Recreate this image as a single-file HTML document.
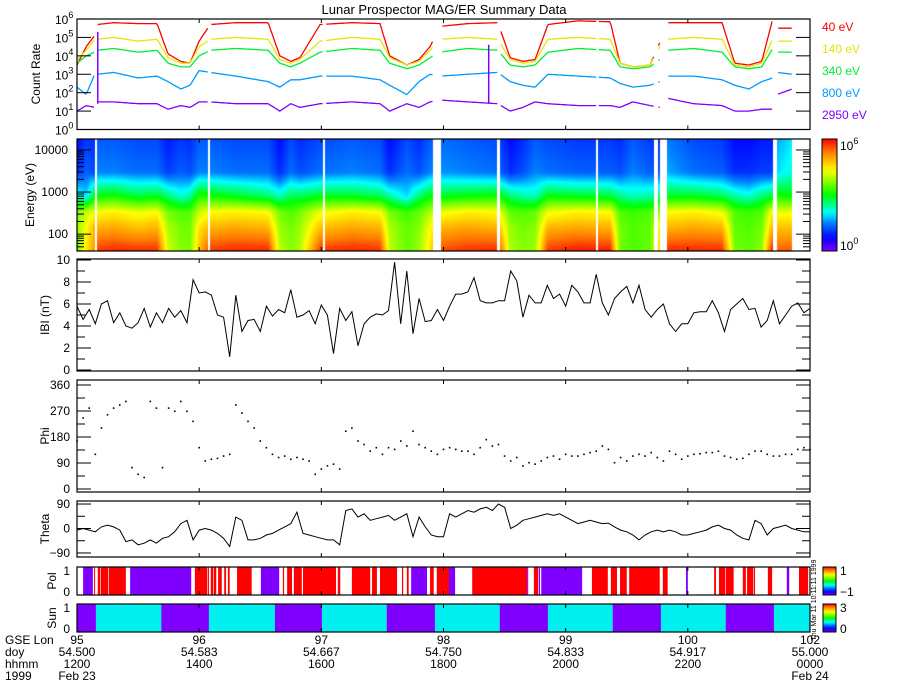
<!DOCTYPE html>
<html><head><meta charset="utf-8"><title>Lunar Prospector MAG/ER Summary Data</title>
<style>
html,body{margin:0;padding:0;background:#fff;}
#wrap{position:relative;width:900px;height:700px;overflow:hidden;background:#fff;font-family:"Liberation Sans",sans-serif;}
#spec{position:absolute;left:77px;top:139px;z-index:0;}
#chart{position:absolute;left:0;top:0;z-index:1;}
</style></head>
<body>
<div id="wrap">
<canvas id="spec" width="733" height="112"></canvas>
<svg id="chart" width="900" height="700" xmlns="http://www.w3.org/2000/svg"></svg>
</div>
<script>
// ---------- DATA ----------
const countT = [12.0,12.15,12.29,12.31,12.33,12.6,13.0,13.31,13.49,13.7,13.85,14.0,14.18,14.6,15.13,15.32,15.5,15.65,15.98,16.5,16.96,17.12,17.4,17.6,17.78,17.94,18.4,18.89,19.09,19.3,19.5,19.71,20.2,20.73,20.89,21.1,21.38,21.54,21.6,21.66,22.1,22.56,22.77,23.0,23.21,23.39,23.42,23.46,23.71];
const red40 = [3.5,4.5,5.1,null,5.7,5.8,5.75,5.75,4.1,3.7,3.6,4.8,5.7,5.8,5.8,4.0,3.7,3.9,5.7,5.8,5.75,4.0,3.5,3.8,4.5,5.6,5.75,5.8,3.9,3.7,3.8,5.7,5.9,5.85,3.6,3.4,3.5,4.7,null,5.8,5.8,5.8,3.6,3.5,3.7,6.0,null,5.5,5.5];
const yel140 = [3.8,4.3,4.9,null,4.9,5.0,4.8,4.9,3.9,3.6,3.6,4.5,4.9,5.0,4.9,3.8,3.6,3.8,4.8,5.0,4.9,3.9,3.5,3.7,4.3,4.9,5.0,4.9,3.8,3.6,3.7,4.9,5.0,4.9,3.6,3.4,3.5,4.5,null,4.9,5.0,4.9,3.5,3.4,3.6,4.9,null,4.8,4.8];
const grn340 = [3.6,4.0,4.2,null,4.3,4.4,4.2,4.3,3.6,3.4,3.4,4.0,4.3,4.4,4.3,3.6,3.4,3.6,4.2,4.4,4.3,3.6,3.3,3.5,3.9,4.2,4.4,4.3,3.5,3.4,3.5,4.2,4.4,4.3,3.4,3.3,3.4,3.8,null,4.3,4.4,4.2,3.4,3.3,3.4,4.4,null,4.2,4.2];
const blu800 = [2.3,1.9,3.0,null,3.0,3.1,2.8,2.9,2.6,2.2,2.4,3.2,3.1,2.9,2.6,2.3,2.7,2.7,2.9,2.9,2.7,2.4,1.9,2.6,3.0,2.9,3.0,3.1,2.6,2.4,2.3,3.0,2.9,2.8,2.5,2.3,2.4,2.6,null,2.9,2.9,2.7,2.4,2.2,2.6,2.8,null,3.1,3.0];
const pur2950 = [1.0,1.3,1.2,null,1.5,1.5,1.4,1.4,1.1,1.3,1.2,1.5,1.5,1.4,1.4,1.0,1.4,1.2,1.4,1.5,1.4,1.0,1.4,1.2,1.5,1.6,1.5,1.4,1.0,1.2,1.5,1.4,1.3,1.3,1.2,1.5,1.3,1.2,null,1.7,1.4,1.3,1.0,1.0,1.1,1.1,null,1.9,2.2];
const spikeT = [12.34,18.74];
const spikeV = [5.3,4.6];
const gapStart = [12.29,14.14,16.03,17.83,18.88,20.50,21.45,21.54,23.39,23.71];
const gapEnd   = [12.33,14.18,16.06,17.96,18.93,20.53,21.51,21.66,23.46,24.01];
const channelLabels = ["40 eV","140 eV","340 eV","800 eV","2950 eV"];
const channelLogE = [1.602,2.146,2.531,2.903,3.470];

const bMag = [5.8,4.6,5.5,4.2,6.0,6.3,4.3,5.2,4.0,3.8,
 4.3,5.6,3.9,5.2,4.3,5.6,4.8,5.4,4.3,8.2,
 7.0,7.1,6.8,5.0,4.8,1.2,6.8,3.5,4.5,4.6,
 3.5,5.8,4.9,5.5,5.2,7.3,4.8,5.0,5.4,4.2,
 5.9,5.0,1.5,5.6,4.5,5.3,2.2,4.2,4.8,5.1,
 5.0,5.4,9.8,4.2,9.0,3.3,6.5,4.4,4.5,5.5,
 4.5,5.8,6.9,6.9,7.1,8.4,6.3,6.1,6.1,6.3,
 6.3,9.0,8.1,4.8,6.8,6.1,6.1,7.7,6.5,6.9,
 5.8,7.7,7.1,6.1,6.1,8.7,6.1,5.0,6.5,7.1,
 7.6,6.1,7.7,5.5,4.8,5.5,6.0,4.2,3.5,4.2,
 4.2,5.2,5.3,5.3,6.3,5.2,3.5,5.5,6.0,6.5,
 5.5,5.6,3.9,4.5,6.3,4.2,5.0,5.8,6.1,5.2,
 5.6];
const phi = [166,246,280,120,211,257,280,291,303,74,
 51,40,303,280,74,280,269,303,269,234,
 143,97,103,106,114,120,291,263,234,211,
 166,143,120,109,114,103,109,103,97,51,
 69,80,86,69,200,211,166,154,131,143,
 120,143,137,166,149,200,154,143,131,120,
 137,143,137,131,131,120,143,171,149,154,
 114,97,109,80,91,86,97,109,114,103,
 120,114,114,120,126,131,149,137,91,109,
 97,114,120,114,126,109,97,131,120,103,
 114,120,122,126,126,131,114,109,103,106,
 120,131,131,120,114,114,120,120,137,143,
 137];
const theta = [-6,0,-6,-12,6,12,6,-6,-48,-42,
 -60,-54,-42,-54,-36,-30,-12,18,30,-42,
 -6,0,-6,-18,-36,-66,42,30,-42,-42,
 -36,-24,-18,-6,6,18,60,-18,-24,-30,
 -36,-42,-42,-60,66,72,42,54,30,36,
 42,48,30,42,54,-30,42,6,-24,-30,
 -30,54,42,54,66,60,72,78,66,90,
 78,0,12,30,36,42,48,54,48,54,
 42,30,18,24,30,24,18,20,6,-6,
 -12,-24,-42,-24,-12,-6,-12,-6,-12,-24,
 -24,-18,-12,-6,6,12,0,-6,-24,-36,
 -42,30,18,-24,0,6,12,0,-6,-12,
 -12];
const polStart = [12.10,12.28,12.34,12.39,12.52,12.87,13.93,14.14,14.19,14.24,14.31,14.41,14.47,14.62,15.01,15.37,15.44,15.55,15.70,16.27,16.50,16.83,16.96,17.32,17.40,17.47,17.78,17.89,18.09,18.47,19.37,19.48,19.56,19.60,20.43,20.74,20.89,21.04,21.59,21.97,22.43,22.51,22.62,22.90,22.97,23.08,23.31,23.62,23.82];
const polEnd   = [12.26,12.29,12.38,12.51,12.80,13.87,14.13,14.16,14.23,14.28,14.37,14.44,14.50,14.86,15.31,15.39,15.52,15.68,16.24,16.31,16.80,16.91,17.24,17.34,17.43,17.73,17.84,18.09,18.19,19.37,19.38,19.55,19.58,20.27,20.69,20.84,21.00,21.54,21.67,22.00,22.46,22.61,22.75,22.95,23.07,23.10,23.38,23.66,23.97];
const polValue = [-1,1,1,1,1,-1,1,1,1,1,1,1,1,1,-1,1,1,1,1,1,1,1,1,1,1,-1,1,1,-1,1,-1,1,-1,-1,1,1,1,1,1,-1,1,1,1,1,1,1,1,-1,1];
const sunStart = [12.0,12.31,13.38,14.16,15.24,16.01,17.07,17.86,18.92,19.71,20.77,21.56,22.62,23.41];
const sunEnd   = [12.31,13.38,14.16,15.24,16.01,17.07,17.86,18.92,19.71,20.77,21.56,22.62,23.41,24.0];
const sunValue = [0,1,0,1,0,1,0,1,0,1,0,1,0,1];
const tickHours = [12,14,16,18,20,22,24];
const tickLon = ["95","96","97","98","99","100","102"];
const tickDoy = ["54.500","54.583","54.667","54.750","54.833","54.917","55.000"];
const tickHhmm = ["1200","1400","1600","1800","2000","2200","0000"];
const tickDate = ["Feb 23","","","","","","Feb 24"];
const bTicks = [0,2,4,6,8,10];
const phiTicks = [0,90,180,270,360];
const thetaTicks = [-90,0,90];

// ---------- HELPERS ----------
const NS = "http://www.w3.org/2000/svg";
const svg = document.getElementById('chart');
const PL = 77, PR = 810;
function X(h){ return PL + (h-12)*(PR-PL)/12; }
function el(tag, attrs, parent){ const e=document.createElementNS(NS,tag); for(const k in attrs) e.setAttribute(k,attrs[k]); (parent||svg).appendChild(e); return e; }
function txt(s, x, y, opts, parent){ const t=el('text',Object.assign({x:x,y:y,'font-family':'"Liberation Sans",sans-serif','font-size':12,fill:'#000'},opts||{}),parent); t.textContent=s; return t; }
function inGap(h){ for(let i=0;i<gapStart.length;i++){ if(h>=gapStart[i]&&h<=gapEnd[i]) return true; } return false; }
function interp(tA,vA,h){ for(let i=0;i<tA.length-1;i++){ if(h>=tA[i]&&h<=tA[i+1]){ if(vA[i]==null||vA[i+1]==null) return null; const f=(h-tA[i])/(tA[i+1]-tA[i]); return vA[i]+f*(vA[i+1]-vA[i]); } } return null; }
const stops=[[0,128,0,255],[0.12,0,0,255],[0.25,0,128,255],[0.34,0,255,255],[0.5,0,255,0],[0.72,255,255,0],[0.88,255,128,0],[1,255,0,0]];
function cmap(f){ f=Math.max(0,Math.min(1,f)); for(let i=0;i<stops.length-1;i++){ const a=stops[i],b=stops[i+1]; if(f>=a[0]&&f<=b[0]){ const t=(f-a[0])/(b[0]-a[0]); return [Math.round(a[1]+t*(b[1]-a[1])),Math.round(a[2]+t*(b[2]-a[2])),Math.round(a[3]+t*(b[3]-a[3]))]; } } return [255,0,0]; }
function rgb(c){ return 'rgb('+c[0]+','+c[1]+','+c[2]+')'; }

function frame(name, top, bottom){
  const r = el('rect',{x:PL,y:top,width:PR-PL,height:bottom-top,fill:'none',stroke:'#000','stroke-width':1.2});
  
  
  tickHours.forEach(function(h){
    const t1 = el('line',{x1:X(h),x2:X(h),y1:top,y2:top+4,stroke:'#000'});
    
    
    const t2 = el('line',{x1:X(h),x2:X(h),y1:bottom,y2:bottom-4,stroke:'#000'});
    
    
  });
}
function yTick(name, y, len){
  const a = el('line',{x1:PL,x2:PL+len,y1:y,y2:y,stroke:'#000'});
  
  
  const b = el('line',{x1:PR,x2:PR-len,y1:y,y2:y,stroke:'#000'});
  
  
}
function yTitle(s, x, yc, name){
  const t = txt(s, x, yc, {'text-anchor':'middle',transform:'rotate(-90 '+x+' '+yc+')'});
  
  
}

// ---------- TITLE ----------
const title = txt('Lunar Prospector MAG/ER Summary Data', 444, 14, {'text-anchor':'middle','font-size':13});



// ---------- PANEL 1: COUNT RATE ----------
const C_TOP=19, C_BOT=129.5;
function yC(v){ return C_BOT - v*(C_BOT-C_TOP)/6; }
const seriesList=[red40,yel140,grn340,blu800,pur2950];
const seriesColors=['#ff0000','#e6e600','#00ee33','#0099ff','#8000ff'];
seriesList.forEach(function(arr, si){
  let d='', pen=false;
  for(let h=12; h<=24.0001; h+=0.02){
    const v = interp(countT, arr, h);
    if(v==null || inGap(h)){ pen=false; continue; }
    d += (pen?'L':'M') + X(h).toFixed(1) + ' ' + yC(v).toFixed(1) + ' ';
    pen=true;
  }
  const p = el('path',{d:d,fill:'none',stroke:seriesColors[si],'stroke-width':1.3});
  
  
  const lab = txt(channelLabels[si], 822, 31+si*22, {fill:seriesColors[si]});
  
  
});
spikeT.forEach(function(h,i){
  const s = el('line',{x1:X(h),x2:X(h),y1:yC(1.4),y2:yC(spikeV[i]),stroke:'#8000ff','stroke-width':1.5});
  
  
});
frame('count-rate', C_TOP, C_BOT);
for(let k=0;k<=6;k++){
  yTick('count-rate', yC(k), 14);
  const t = txt('10', 55, yC(k)+5, {});
  const sp = document.createElementNS(NS,'tspan'); sp.setAttribute('dy',-6); sp.setAttribute('font-size',9); sp.textContent=String(k); t.appendChild(sp);
  
  
}
yTitle('Count Rate', 40, 74, 'count-rate-y-title');

// ---------- PANEL 2: SPECTROGRAM ----------
const S_TOP=139, S_BOT=251, LOGTOP=4.26, LOGBOT=1.60;
function yS(le){ return S_TOP + (LOGTOP-le)*(S_BOT-S_TOP)/(LOGTOP-LOGBOT); }
(function(){
  const cv=document.getElementById('spec'); const ctx=cv.getContext('2d');
  const img=ctx.createImageData(733,112);
  for(let px=0;px<733;px++){
    const h=12+(px+0.5)*12/733;
    if(inGap(h)) continue;
    const vals=seriesList.map(function(a){return interp(countT,a,h);});
    if(vals.some(function(v){return v==null;})) continue;
    for(let py=0;py<112;py++){
      const le=LOGTOP-(py+0.5)*(LOGTOP-LOGBOT)/112;
      let v;
      if(le<=channelLogE[0]) v=vals[0];
      else if(le>=channelLogE[4]) v=vals[4]-0.3*(le-channelLogE[4]);
      else { for(let i=0;i<4;i++){ if(le>=channelLogE[i]&&le<=channelLogE[i+1]){ const f=(le-channelLogE[i])/(channelLogE[i+1]-channelLogE[i]); v=vals[i]+f*(vals[i+1]-vals[i]); } } }
      const c=cmap(v/6); const o=(py*733+px)*4;
      img.data[o]=c[0]; img.data[o+1]=c[1]; img.data[o+2]=c[2]; img.data[o+3]=255;
    }
  }
  ctx.putImageData(img,0,0);
})();
frame('spectrogram', S_TOP, S_BOT);
[1,2,3,4].forEach(function(dec){
  for(let m=1;m<10;m++){
    const le=dec+Math.log10(m);
    if(le<LOGBOT||le>LOGTOP) continue;
    yTick('spectrogram', yS(le), m===1?14:7);
  }
});
[[4,'10000'],[3,'1000'],[2,'100']].forEach(function(p){
  const t=txt(p[1], 68, yS(p[0])+4, {'text-anchor':'end'});
  
  
});
yTitle('Energy (eV)', 34, 195, 'energy-y-title');
const cbDefs = el('defs',{});
const grad = el('linearGradient',{id:'rainbow',x1:0,y1:1,x2:0,y2:0},cbDefs);
for(let i=0;i<=20;i++){ el('stop',{offset:(i/20),'stop-color':rgb(cmap(i/20))},grad); }
const cb1 = el('rect',{x:822,y:139,width:15,height:112,fill:'url(#rainbow)',stroke:'#000'});


[['6',150],['0',250]].forEach(function(p){
  const t=txt('10', 840, p[1], {});
  const sp=document.createElementNS(NS,'tspan'); sp.setAttribute('dy',-6); sp.setAttribute('font-size',9); sp.textContent=p[0]; t.appendChild(sp);
  
  
});

// ---------- PANEL 3: |B| ----------
const B_TOP=259, B_BOT=371;
function yB(v){ return 370 - 11*v; }
(function(){
  let d='';
  bMag.forEach(function(v,i){ d += (i?'L':'M') + X(12+i*0.1).toFixed(1) + ' ' + yB(v).toFixed(1) + ' '; });
  const p=el('path',{d:d,fill:'none',stroke:'#000','stroke-width':1});
  
  
})();
frame('b-magnitude', B_TOP, B_BOT);
for(let v=0;v<=10;v++){ yTick('b-magnitude', yB(v), v%2===0?14:8); }
bTicks.forEach(function(v){
  const t=txt(String(v), 70, yB(v)+4, {'text-anchor':'end'});
  
  
});
yTitle('IBI (nT)', 49, 315, 'b-magnitude-y-title');

// ---------- PANEL 4: PHI ----------
const P_TOP=380, P_BOT=492;
function yP(v){ return 489 - v*104/360; }
phi.forEach(function(v,i){
  const d=el('rect',{x:X(12+i*0.1)-0.8,y:yP(v)-0.8,width:1.6,height:1.6,fill:'#000'});
  
  
});
frame('phi', P_TOP, P_BOT);
for(let v=0;v<=360;v+=45){ yTick('phi', yP(v), v%90===0?14:8); }
phiTicks.forEach(function(v){
  const t=txt(String(v), 70, yP(v)+4, {'text-anchor':'end'});
  
  
});
yTitle('Phi', 49, 436, 'phi-y-title');

// ---------- PANEL 5: THETA ----------
const T_TOP=501, T_BOT=557;
function yT(v){ return 528.5 - v*0.272; }
(function(){
  let d='';
  theta.forEach(function(v,i){ d += (i?'L':'M') + X(12+i*0.1).toFixed(1) + ' ' + yT(v).toFixed(1) + ' '; });
  const p=el('path',{d:d,fill:'none',stroke:'#000','stroke-width':1});
  
  
})();
frame('theta', T_TOP, T_BOT);
for(let v=-90;v<=90;v+=45){ yTick('theta', yT(v), v%90===0?14:8); }
thetaTicks.forEach(function(v){
  const t=txt(v<0?'\u221290':String(v), 70, yT(v)+4, {'text-anchor':'end'});
  
  
});
yTitle('Theta', 49, 529, 'theta-y-title');

// ---------- PANEL 6: POL ----------
const POL_TOP=567, POL_BOT=595;
polStart.forEach(function(s,i){
  const r=el('rect',{x:X(s),y:POL_TOP,width:Math.max(1,X(polEnd[i])-X(s)),height:POL_BOT-POL_TOP,fill:polValue[i]>0?'#ff0000':'#8000ff'});
  
  
});
frame('pol', POL_TOP, POL_BOT);
[['1',575],['0',596]].forEach(function(p){
  const t=txt(p[0], 70, p[1], {'text-anchor':'end'});
  
  
});
yTitle('Pol', 56, 581, 'pol-y-title');
const cb2=el('rect',{x:823,y:567,width:13,height:28,fill:'url(#rainbow)',stroke:'#000'});


[['1',575],['\u22121',596]].forEach(function(p){
  const t=txt(p[0], 840, p[1], {});
  
  
});

// ---------- PANEL 7: SUN ----------
const SUN_TOP=604, SUN_BOT=632;
sunStart.forEach(function(s,i){
  const r=el('rect',{x:X(s),y:SUN_TOP,width:X(sunEnd[i])-X(s),height:SUN_BOT-SUN_TOP,fill:sunValue[i]?'#00f0f0':'#8000ff'});
  
  
});
frame('sun', SUN_TOP, SUN_BOT);
[['1',612],['0',633]].forEach(function(p){
  const t=txt(p[0], 70, p[1], {'text-anchor':'end'});
  
  
});
yTitle('Sun', 56, 618, 'sun-y-title');
const cb3=el('rect',{x:823,y:604,width:13,height:28,fill:'url(#rainbow)',stroke:'#000'});


[['3',612],['0',633]].forEach(function(p){
  const t=txt(p[0], 840, p[1], {});
  
  
});
const stamp=txt('Thu Mar 11 10:11:11 1999', 816, 600, {'font-size':7,transform:'rotate(-90 816 600)','text-anchor':'middle'});



// ---------- X AXIS LABELS ----------
[['GSE Lon',644],['doy',656],['hhmm',668],['1999',680]].forEach(function(p){
  const t=txt(p[0], 5, p[1], {});
  
  
});
tickHours.forEach(function(h,i){
  const x=X(h);
  [[tickLon[i],644],[tickDoy[i],656],[tickHhmm[i],668],[tickDate[i],680]].forEach(function(p){
    if(!p[0]) return;
    const t=txt(p[0], x, p[1], {'text-anchor':'middle'});
    
    
  });
});
</script>
</body></html>
